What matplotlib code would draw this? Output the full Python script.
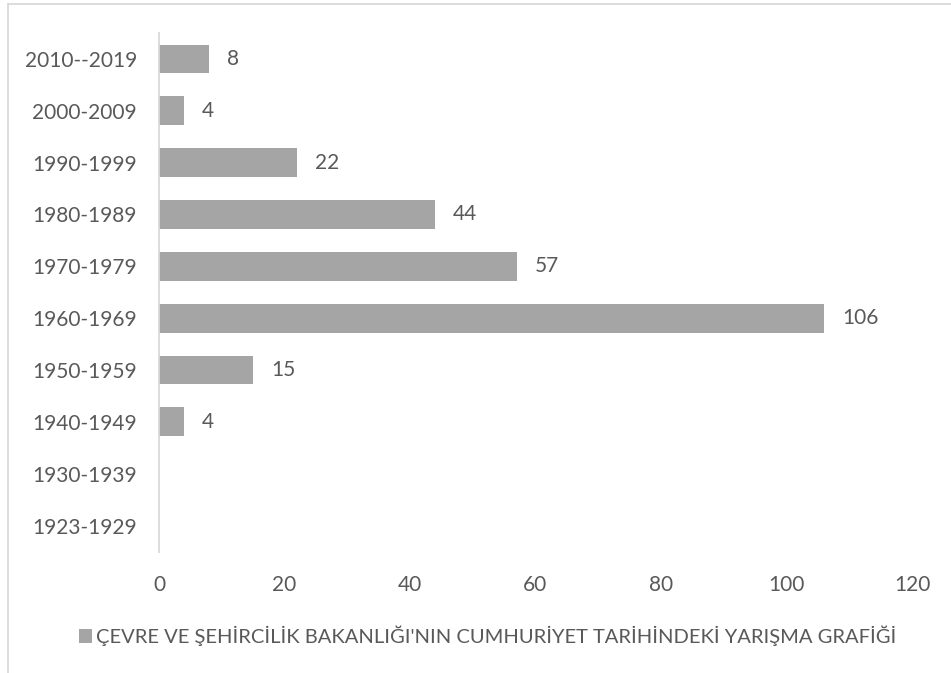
import matplotlib
matplotlib.use("Agg")
import matplotlib.pyplot as plt
from matplotlib.lines import Line2D
from matplotlib.patches import Patch

# data, bottom to top as in the chart
periods = ["1923-1929", "1930-1939", "1940-1949", "1950-1959", "1960-1969",
           "1970-1979", "1980-1989", "1990-1999", "2000-2009", "2010--2019"]
counts = [0, 0, 4, 15, 106, 57, 44, 22, 4, 8]
x_ticks = [0, 20, 40, 60, 80, 100, 120]
series_name = "ÇEVRE VE ŞEHİRCİLİK BAKANLIĞI'NIN CUMHURİYET TARİHİNDEKİ YARIŞMA GRAFİĞİ"

bar_color = "#a5a5a5"
text_color = "#595959"
line_color = "#d9d9d9"

plt.rcParams["font.family"] = ["Lato", "DejaVu Sans"]

fig = plt.figure(figsize=(9.51, 6.73), dpi=100)
ax = fig.add_axes([159 / 951, 1 - 551.5 / 673, 753 / 951, 518.5 / 673])

ypos = range(len(periods))
ax.barh(ypos, counts, height=0.556, color=bar_color)

# data labels (zeros are not labelled)
for y, v in zip(ypos, counts):
    if v > 0:
        ax.annotate(str(v), xy=(v, y), xytext=(13, 0), textcoords="offset points",
                    va="center", ha="left", fontsize=15, color=text_color)

ax.set_xlim(0, 120)
ax.set_ylim(-0.5, len(periods) - 0.5)
ax.set_xticks(x_ticks)
ax.set_yticks(list(ypos))
ax.set_yticklabels(periods)

for s in ["top", "right", "bottom"]:
    ax.spines[s].set_visible(False)
ax.spines["left"].set_color(line_color)
ax.spines["left"].set_linewidth(1.3)

ax.tick_params(axis="y", length=0, pad=16, labelsize=15, labelcolor=text_color)
ax.tick_params(axis="x", length=0, pad=17, labelsize=15, labelcolor=text_color)

# legend below the plot
fig.legend(handles=[Patch(facecolor=bar_color, edgecolor="none")], labels=[series_name],
           loc="center", bbox_to_anchor=(488 / 951, 1 - 636 / 673), frameon=False,
           fontsize=14.5, labelcolor=text_color, handlelength=0.65, handleheight=0.65,
           handletextpad=0.2)

# chart area border (only top and left visible in the crop)
fig.add_artist(Line2D([8 / 951, 1], [1 - 4 / 673, 1 - 4 / 673], color=line_color,
                      lw=1.3, transform=fig.transFigure))
fig.add_artist(Line2D([8 / 951, 8 / 951], [0, 1 - 4 / 673], color=line_color,
                      lw=1.3, transform=fig.transFigure))

fig.savefig("out.png", dpi=100)
